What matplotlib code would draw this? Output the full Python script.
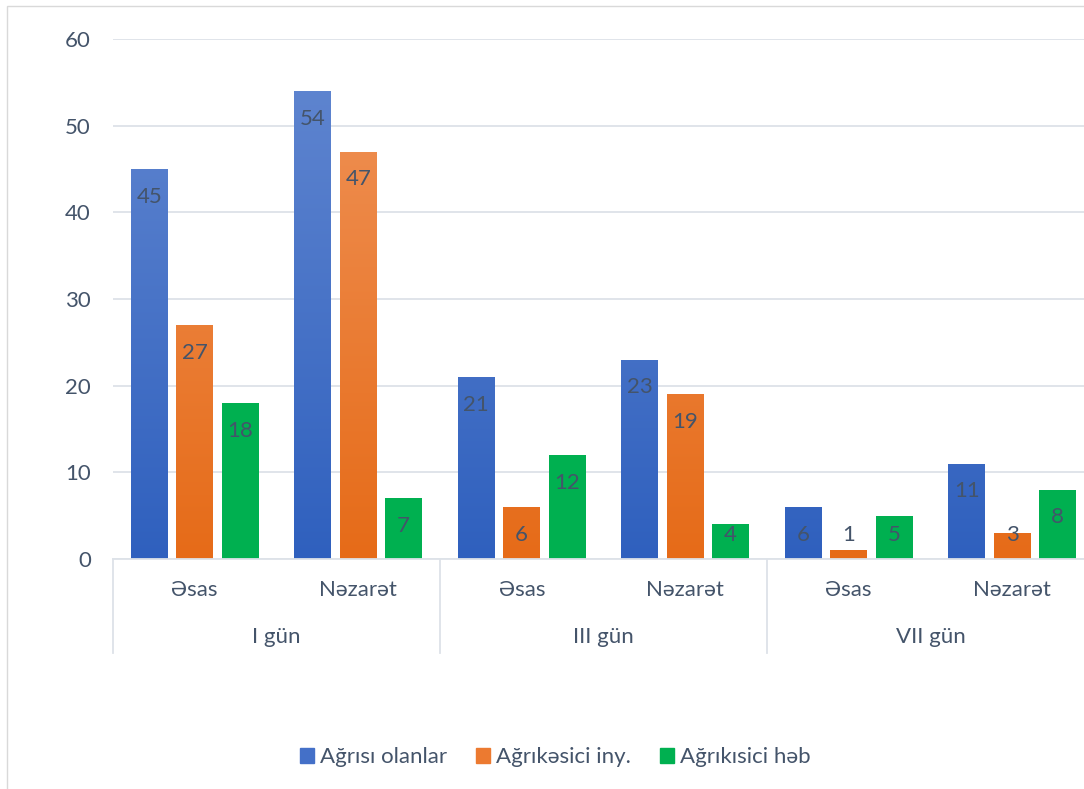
import matplotlib
matplotlib.use("Agg")
import matplotlib.pyplot as plt
import numpy as np
from matplotlib.patches import Rectangle
from matplotlib.colors import LinearSegmentedColormap

plt.rcParams['font.family'] = ['Lato', 'DejaVu Sans']

groups = ["Əsas", "Nəzarət", "Əsas", "Nəzarət", "Əsas", "Nəzarət"]
days = ["I gün", "III gün", "VII gün"]
series_names = ["Ağrısı olanlar", "Ağrıkəsici iny.", "Ağrıkısici həb"]
s1 = [45, 54, 21, 23, 6, 11]
s2 = [27, 47, 6, 19, 1, 3]
s3 = [18, 7, 12, 4, 5, 8]
yticks = [0, 10, 20, 30, 40, 50, 60]

TXT = "#44546a"
GRID = "#dde2e8"
blue_grad = ("#2f60be", "#6388d1")
orange_grad = ("#e66b18", "#f0945a")
green = "#00b050"
FS = 16

W, H = 1084, 789
fig = plt.figure(figsize=(W / 100, H / 100), dpi=100)
left, right, bottom, top = 113, 1094, 559, 39
ax = fig.add_axes([left / W, 1 - bottom / H, (right - left) / W, (bottom - top) / H])

x = np.arange(len(groups))
width = 0.226
off = 0.278

def grad_bars(xs, vals, cols):
    bars = ax.bar(xs, vals, width, color=cols[0], zorder=2)
    cmap = LinearSegmentedColormap.from_list("g", [cols[0], cols[1]])
    grad = np.linspace(0, 1, 256).reshape(-1, 1)
    for b in bars:
        x0 = b.get_x()
        im = ax.imshow(grad, cmap=cmap, origin="lower", aspect="auto",
                       extent=[x0, x0 + b.get_width(), 0, 60], zorder=2.5,
                       interpolation="bilinear")
        im.set_clip_path(b)
    return bars

b1 = grad_bars(x - off, s1, blue_grad)
b2 = grad_bars(x, s2, orange_grad)
b3 = ax.bar(x + off, s3, width, color=green, zorder=2)
ax.set_xlim(-0.5, len(groups) - 0.5)
ax.set_ylim(0, 60)

# data labels
for xs, vals in [(x - off, s1), (x, s2), (x + off, s3)]:
    for xi, v in zip(xs, vals):
        yl = max(v - 3.2, 2.75)
        ax.text(xi, yl, str(v), ha="center", va="center", fontsize=FS,
                color=TXT, zorder=5)

ax.set_yticks(yticks)
ax.set_yticklabels([str(t) for t in yticks])
ax.tick_params(axis="y", length=0, labelsize=FS, labelcolor=TXT, pad=16)
ax.tick_params(axis="x", length=0)
ax.set_xticks([])
ax.grid(axis="y", color=GRID, linewidth=1.3, zorder=0)
ax.set_axisbelow(True)
for s in ["top", "right", "left"]:
    ax.spines[s].set_visible(False)
ax.spines["bottom"].set_color(GRID)
ax.spines["bottom"].set_linewidth(1.3)
ax.spines["bottom"].set_zorder(3)

# hierarchical category axis
trans = ax.get_xaxis_transform()
px = 1.0 / (bottom - top)
for i, g in enumerate(groups):
    ax.text(x[i], -31 * px, g, transform=trans, ha="center", va="center",
            fontsize=FS, color=TXT)
for d, day in enumerate(days):
    ax.text(2 * d + 0.5, -78 * px, day, transform=trans, ha="center",
            va="center", fontsize=FS, color=TXT)
for b in [-0.5, 1.5, 3.5, 5.5]:
    ax.plot([b, b], [0, -94 * px], transform=trans, color=GRID, lw=1.3,
            clip_on=False)

# legend
handles = [Rectangle((0, 0), 1, 1, color="#4470c8"),
           Rectangle((0, 0), 1, 1, color="#ec7a30"),
           Rectangle((0, 0), 1, 1, color=green)]
leg = fig.legend(handles, series_names, loc="center", ncol=3,
                 bbox_to_anchor=(555 / W, 1 - 757 / H), frameon=False,
                 fontsize=FS, handlelength=0.65, handleheight=0.65,
                 handletextpad=0.25, columnspacing=1.3)
for t in leg.get_texts():
    t.set_color(TXT)

# chart border
fig.add_artist(Rectangle((7 / W, -0.1), 1.2, 1 - 6 / H + 0.1,
                         transform=fig.transFigure, fill=False,
                         edgecolor="#d9d9d9", lw=1))

fig.savefig("out.png", dpi=100)
